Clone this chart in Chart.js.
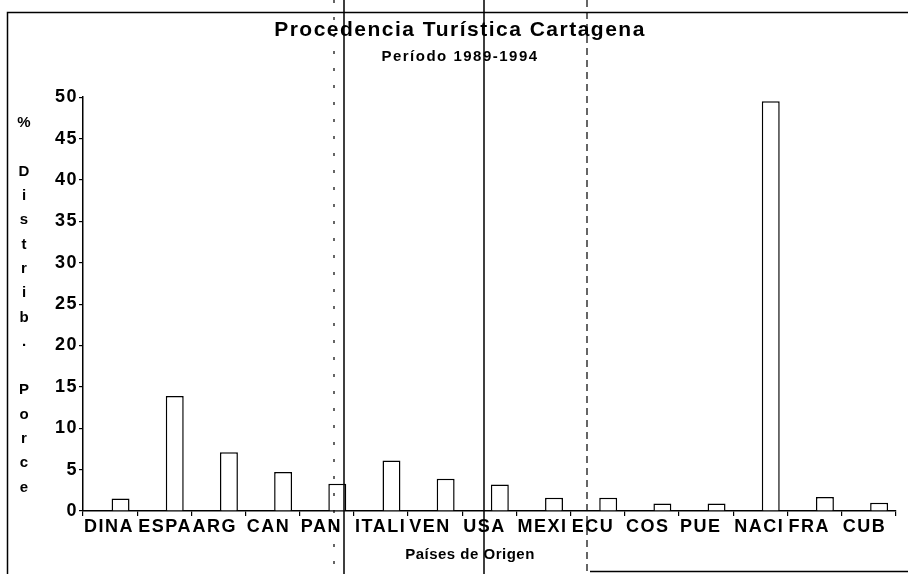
<!DOCTYPE html>
<html>
<head>
<meta charset="utf-8">
<script src="https://cdn.jsdelivr.net/npm/chart.js@4.4.1/dist/chart.umd.min.js"></script>
<style>
  html, body { margin: 0; padding: 0; background: #fff; }
  #wrap { width: 908px; height: 574px; }
</style>
</head>
<body>
<div id="wrap"><canvas id="myChart" width="908" height="574"></canvas></div>
<script>
// datos
var paises = ['DINA', 'ESPA', 'ARG', 'CAN', 'PAN', 'ITALI', 'VEN', 'USA', 'MEXI', 'ECU', 'COS', 'PUE', 'NACI', 'FRA', 'CUB']
var porcentajes = [1.5, 13.9, 7.1, 4.7, 3.3, 6.1, 3.9, 3.2, 1.6, 1.6, 0.9, 0.9, 49.5, 1.7, 1.0]
var vacio = paises.map(function() { return null })   // serie vacia para correr las barras a la derecha

var titulo = 'Procedencia Turística Cartagena'
var subtitulo = 'Período 1989-1994'
var tituloX = 'Países de Origen'
var tituloY = '% Distrib. Porce'

var fuente = '"Liberation Sans", Arial, sans-serif'

var marco = {
    id: 'marco',
    beforeDraw: function(chart) {
        // titulo y subtitulo van mas espaciados
        chart.ctx.letterSpacing = '1.5px'
    },
    beforeDatasetsDraw: function(chart) {
        // los ejes (z: 1) se dibujan despues, mas apretados
        chart.ctx.letterSpacing = '0px'
    },
    afterDraw: function(chart) {
        var ctx = chart.ctx
        ctx.save()
        ctx.fillStyle = '#000'
        ctx.textAlign = 'center'
        ctx.textBaseline = 'middle'

        // titulo eje y, una letra por linea
        ctx.letterSpacing = '0px'
        ctx.font = 'bold 15px ' + fuente
        tituloY.split('').forEach(function(c, i) {
            ctx.fillText(c, 24, 123 + i * 24.3)
        })

        // titulo eje x
        ctx.letterSpacing = '0.5px'
        ctx.font = 'bold 15px ' + fuente
        ctx.fillText(tituloX, 470, 555)
        ctx.letterSpacing = '0px'

        // bordes y lineas del papel escaneado
        ctx.strokeStyle = '#000'
        ctx.lineWidth = 1.5
        ctx.beginPath()
        ctx.moveTo(7.5, 574); ctx.lineTo(7.5, 12.5); ctx.lineTo(908, 12.5)
        ctx.moveTo(590, 571.5); ctx.lineTo(908, 571.5)
        ctx.moveTo(344, 0); ctx.lineTo(344, 574)
        ctx.moveTo(484, 0); ctx.lineTo(484, 574)
        ctx.stroke()

        ctx.lineWidth = 1.2
        ctx.setLineDash([7, 5])
        ctx.beginPath()
        ctx.moveTo(587, 0); ctx.lineTo(587, 574)
        ctx.stroke()
        ctx.setLineDash([3, 14])
        ctx.beginPath()
        ctx.moveTo(334, 0); ctx.lineTo(334, 574)
        ctx.stroke()
        ctx.restore()
    }
}

var ctx = document.getElementById('myChart').getContext('2d')

var chart = new Chart(ctx, {
    type: 'bar',
    data: {
        labels: paises,
        datasets: [{
            label: '',
            data: vacio
        }, {
            label: '% Distrib.',
            data: porcentajes,
            backgroundColor: '#fff',
            borderColor: '#000',
            borderWidth: 1.5,
            borderSkipped: 'bottom'
        }]
    },
    options: {
        responsive: false,
        animation: false,
        categoryPercentage: 0.773,
        barPercentage: 0.857,
        layout: {
            padding: { left: 23, right: 11, top: 0, bottom: 0 }
        },
        plugins: {
            legend: { display: false },
            tooltip: { enabled: false },
            title: {
                display: true,
                text: titulo,
                color: '#000',
                font: { family: fuente, size: 21, weight: 'bold' },
                padding: { top: 18, bottom: 5 }
            },
            subtitle: {
                display: true,
                text: subtitulo,
                color: '#000',
                font: { family: fuente, size: 15, weight: 'bold' },
                padding: { top: 0, bottom: 31 }
            }
        },
        scales: {
            x: {
                z: 1,
                afterFit: function(scale) { scale.height = 63 },
                border: { display: true, color: '#000', width: 1.5 },
                grid: { drawOnChartArea: false, color: '#000', tickLength: 5, lineWidth: 1.2 },
                ticks: {
                    autoSkip: false,
                    maxRotation: 0,
                    align: 'start',
                    labelOffset: -26,
                    padding: 0,
                    color: '#000',
                    font: { family: fuente, size: 18, weight: 'bold' }
                }
            },
            y: {
                z: 1,
                min: 0,
                max: 50,
                afterFit: function(scale) { scale.width = 60 },
                border: { display: true, color: '#000', width: 1.5 },
                grid: { drawOnChartArea: false, color: '#000', tickLength: 4, lineWidth: 1.2 },
                ticks: {
                    stepSize: 5,
                    padding: 1,
                    color: '#000',
                    font: { family: fuente, size: 18, weight: 'bold' }
                }
            }
        }
    },
    plugins: [marco]
})
</script>
</body>
</html>
